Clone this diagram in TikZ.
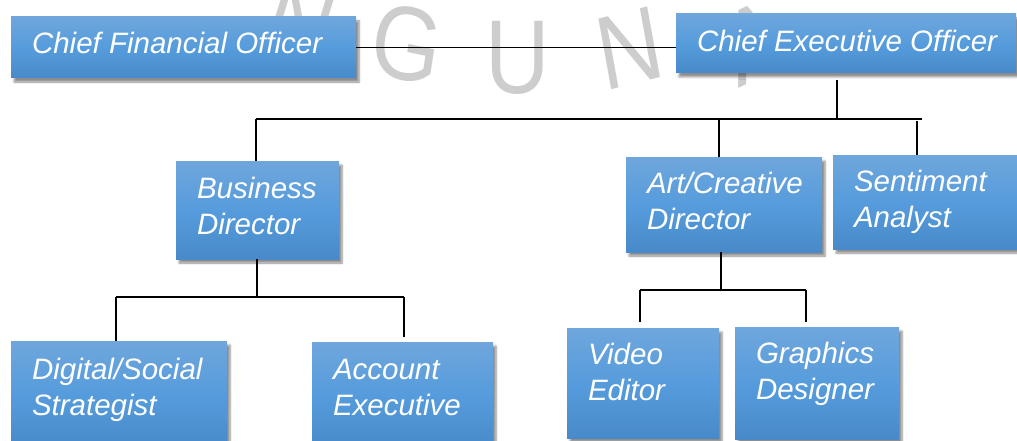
\documentclass[tikz,border=0pt]{standalone}
\usepackage{fontspec}
\setmainfont{Liberation Sans}
\usetikzlibrary{calc,shadows.blur}

\definecolor{c6fa6dc}{RGB}{111,166,220}
\definecolor{c569cdc}{RGB}{86,156,220}
\definecolor{c488ac9}{RGB}{72,138,201}
\definecolor{ccdcdcd}{RGB}{205,205,205}

\tikzset{
  orgbox/.style={fill=c569cdc, top color=c6fa6dc, bottom color=c488ac9,
    middle color=c569cdc, blur shadow={shadow xshift=3pt, shadow yshift=-4pt,
    shadow blur steps=6, shadow opacity=45}},
  orgtext/.style={text=white, font=\fontsize{29.5}{36}\selectfont\itshape,
    align=left},
  orgline/.style={draw=black, line width=1.3pt},
  wmark/.style={text=ccdcdcd, font=\fontsize{105}{105}\selectfont, xscale=0.85}
}

% box: [baseline of last line], name, x, y, width, height, text
\newcommand{\orgunit}[7][73]{%
  \node[orgbox, anchor=north west, minimum width=#5pt, minimum height=#6pt]
    (#2) at (#3,#4) {};
  \node[orgtext, anchor=base west] (#2text) at ($(#2.north west)+(21,#1)$) {#7};
}

\begin{document}
\begin{tikzpicture}[x=1pt, y=-1pt, inner sep=0pt, outer sep=0pt]
  \useasboundingbox (0,0) rectangle (1017,441);
  \clip (0,0) rectangle (1017,441);

  % watermark
  \node[wmark, rotate=-20] (markn) at (300,24) {N};
  \node[wmark, rotate=-10] (markg) at (407,44) {G};
  \node[wmark] (marku) at (518,58) {U};
  \node[wmark, rotate=12] (markm) at (630,48) {N};
  \node[wmark, rotate=22] (marka) at (755,42) {A};

  % junctions
  \coordinate (ceotap) at (837,80);
  \coordinate (topbusw) at (256,119);
  \coordinate (topbuse) at (922,119);
  \coordinate (arttap) at (719,119);
  \coordinate (senttap) at (917,121);
  \coordinate (bdbus) at (257,297);
  \coordinate (leftbusw) at (116,297);
  \coordinate (leftbuse) at (404,297);
  \coordinate (acctap) at (404,337);
  \coordinate (artbus) at (721,290);
  \coordinate (rightbusw) at (640,290);
  \coordinate (rightbuse) at (806,290);
  \coordinate (vidtap) at (640,322);
  \coordinate (gfxtap) at (806,322);

  % boxes
  \orgunit[37]{cfo}{11}{17}{345}{61}{Chief Financial Officer}
  \orgunit[38]{ceo}{676}{14}{340}{59}{Chief Executive Officer}
  \orgunit{bd}{176}{161}{163}{98}{Business\\Director}
  \orgunit[72]{art}{626}{157}{196}{95}{Art/Creative\\Director}
  \orgunit[72]{sent}{833}{155}{190}{94}{Sentiment\\Analyst}
  \orgunit[74]{dss}{11}{341}{216}{106}{Digital/Social\\Strategist}
  \orgunit{acc}{312}{342}{181}{105}{Account\\Executive}
  \orgunit[72]{vid}{567}{328}{152}{110}{Video\\Editor}
  \orgunit[72]{gfx}{735}{327}{164}{112}{Graphics\\Designer}

  % connectors
  \path[orgline] (cfo.east) -- (cfo.east -| ceo.west);
  \path[orgline] (ceotap) -- (ceotap |- topbusw);
  \path[orgline] (topbusw) -- (topbuse);
  \path[orgline] (topbusw) -- (topbusw |- bd.north);
  \path[orgline] (arttap) -- (arttap |- art.north);
  \path[orgline] (senttap) -- (senttap |- sent.north);
  \path[orgline] (bdbus |- bd.south) -- (bdbus);
  \path[orgline] (leftbusw) -- (leftbuse);
  \path[orgline] (leftbusw) -- (leftbusw |- dss.north);
  \path[orgline] (leftbuse) -- (acctap);
  \path[orgline] (artbus |- art.south) -- (artbus);
  \path[orgline] (rightbusw) -- (rightbuse);
  \path[orgline] (rightbusw) -- (vidtap);
  \path[orgline] (rightbuse) -- (gfxtap);

\end{tikzpicture}
\end{document}
